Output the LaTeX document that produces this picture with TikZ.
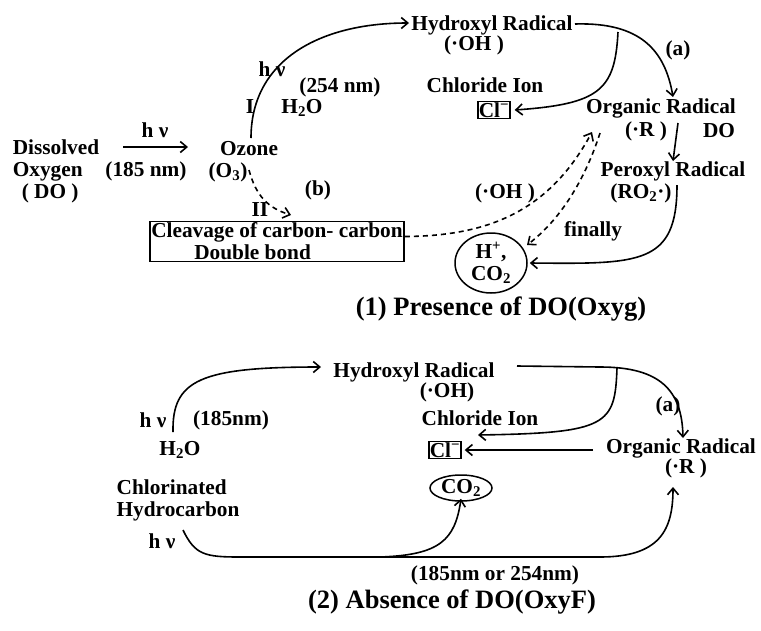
\documentclass[tikz,border=0pt]{standalone}
\usepackage{fontspec}
\setmainfont{Liberation Serif}
\usetikzlibrary{arrows.meta,shapes.geometric}
\begin{document}
\begin{tikzpicture}[x=1pt,y=-1pt,
  txt/.style={inner sep=0pt, font=\fontsize{21.3}{22}\selectfont\bfseries, align=center},
  ttl/.style={inner sep=0pt, font=\fontsize{26.5}{28}\selectfont\bfseries},
  con/.style={line width=1.6pt, -{Straight Barb[length=6.5pt,width=11pt]}},
  dsh/.style={con, dash pattern=on 5pt off 4pt},
  boxed/.style={txt, draw, line width=1.5pt, inner sep=2pt},
  oval/.style={txt, draw, ellipse, line width=1.5pt, inner sep=0pt}]
\useasboundingbox (0,0) rectangle (761,630);
% ---------- part 1 ----------
\node[txt, align=left] (do) at (56,171) {Dissolved\\Oxygen\\\hspace*{9pt}( DO )};
\node[txt] (hv1) at (155,130) {h ν};
\node[txt] (nm185) at (146,171) {(185 nm)};
\coordinate (a1s) at (123,147);
\coordinate (a1e) at (188,147);
\draw[con] (a1s) -- (a1e);
\node[txt] (ozone) at (249,148.5) {Ozone};
\node[txt] (o3) at (228,172) {(O\textsubscript{3})};
\node[txt] (hr1) at (492,25) {Hydroxyl Radical};
\node[txt] (oh1) at (474,45) {(·OH )};
\coordinate (arcs) at (251,138);
\coordinate (arce) at (409,23);
\draw[con] (arcs) .. controls (251,60) and (320,23) .. (arce);
\node[txt] (hv2) at (272,69) {h ν};
\node[txt] (one) at (250,107) {I};
\node[txt] (nm254) at (340,87) {(254 nm)};
\node[txt] (h2o1) at (302,108) {H\textsubscript{2}O};
\node[txt] (b) at (318,190) {(b)};
\node[txt] (two) at (260,210) {II};
\coordinate (ds) at (249,170);
\coordinate (de) at (291,215);
\draw[dsh] (ds) .. controls (256,196) and (268,208) .. (de);
\node[boxed, align=left, inner sep=1.5pt] (cleave) at (277,241.5) {Cleavage of carbon- carbon\\\hspace*{43pt}Double bond};
\node[txt] (chl1) at (485,85.5) {Chloride Ion};
\node[boxed, inner sep=0.8pt] (cl1) at (494,110) {Cl\textsuperscript{−}};
\node[txt] (or1) at (661,108) {Organic Radical};
\node[txt] (r1) at (646,131) {(·R )};
\node[txt] (do2) at (719,131) {DO};
\node[txt] (a1) at (678,50) {(a)};
\node[txt] (pr) at (673,171) {Peroxyl Radical};
\node[txt] (ro2) at (641,193) {(RO\textsubscript{2}·)};
\node[txt] (fin) at (593,231) {finally};
\node[oval, minimum width=72pt, minimum height=60pt] (hco2) at (491,263) {H\textsuperscript{+},\\CO\textsubscript{2}};
\node[txt] (oh2) at (505,193) {(·OH )};
\coordinate (hs) at (575,24);
\coordinate (hbr) at (618,32);
\coordinate (he) at (673,97);
\draw[con] (hs) .. controls (640,22) and (665,50) .. (he);
\draw[con] (hbr) .. controls (615,90) and (600,104) .. ([xshift=4pt]cl1.east);
\coordinate (rs) at (678,123);
\coordinate (re) at (673,161);
\draw[con] (rs) -- (re);
\coordinate (ps) at (677,185);
\draw[con] (ps) .. controls (677,265) and (640,264) .. ([xshift=2pt]hco2.east);
\coordinate (d1e) at (592,132);
\draw[dsh] ([yshift=5pt]cleave.east) .. controls (490,236) and (550,210) .. (d1e);
\coordinate (d2s) at (600,133);
\coordinate (d2e) at (527,245);
\draw[dsh] (d2s) .. controls (585,180) and (560,220) .. (d2e);
\node[ttl] (t1) at (501,309) {(1) Presence of DO(Oxyg)};
% ---------- part 2 ----------
\node[txt] (hr2) at (414,372) {Hydroxyl Radical};
\node[txt] (oh3) at (447,392) {(·OH)};
\node[txt] (hv3) at (153,420) {h ν};
\node[txt] (nm185b) at (231,420) {(185nm)};
\node[txt] (h2o2) at (180,450) {H\textsubscript{2}O};
\coordinate (bs) at (173,432);
\coordinate (be) at (321,367);
\draw[con] (bs) .. controls (172,380) and (200,367) .. (be);
\node[txt, align=left] (chc) at (178,500) {Chlorinated\\Hydrocarbon};
\node[txt] (hv4) at (162,541) {h ν};
\node[txt] (chl2) at (480,418) {Chloride Ion};
\node[boxed, inner sep=0.8pt] (cl2) at (445,450) {Cl\textsuperscript{−}};
\node[txt] (or2) at (681,448) {Organic Radical};
\node[txt] (r2) at (686,468) {(·R )};
\node[txt] (a2) at (668,406) {(a)};
\node[oval, minimum width=62pt, minimum height=26pt] (co2) at (461,488) {CO\textsubscript{2}};
\node[txt] (nmor) at (495,575) {(185nm or 254nm)};
\node[ttl] (t2) at (452,602) {(2) Absence of DO(OxyF)};
\coordinate (h2s) at (517,366);
\coordinate (h2br) at (617,368);
\coordinate (h2e) at (683,438);
\draw[con] (h2s) -- (600,367) .. controls (660,367) and (682,390) .. (h2e);
\draw[con] (h2br) .. controls (615,425) and (608,433) .. (478,435);
\coordinate (ors) at (593,450);
\draw[con] (ors) -- ([xshift=3pt]cl2.east |- ors);
\coordinate (cs) at (183,530);
\coordinate (cbr) at (380,557);
\coordinate (ce) at (673,487);
\draw[con] (cs) .. controls (195,555) and (205,557) .. (240,557) -- (600,557) .. controls (660,557) and (673,530) .. (ce);
\draw[con] (cbr) .. controls (440,555) and (455,540) .. ([yshift=3pt]co2.south);
\end{tikzpicture}
\end{document}
